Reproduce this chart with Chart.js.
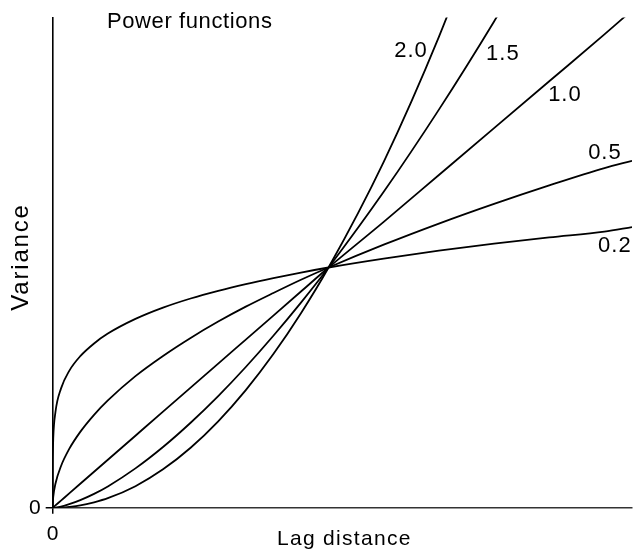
<!DOCTYPE html>
<html>
<head>
<meta charset="utf-8">
<script src="https://cdn.jsdelivr.net/npm/chart.js@4"></script>
<style>
  body { margin: 0; background: #fff; }
  #wrap { width: 635px; height: 555px; }
</style>
</head>
<body>
<div id="wrap"><canvas id="powerChart" width="635" height="555"></canvas></div>
<script>
// lag distance (h) and variance
const lag = [0, 0.0001, 0.0005, 0.002, 0.01, 0.03, 0.06, 0.1, 0.15, 0.2, 0.3, 0.4, 0.5, 0.6, 0.7, 0.8, 0.9, 1.0, 1.2, 1.4, 1.6, 1.8, 2.0, 2.1];
const var02 = [0, 0.158, 0.219, 0.289, 0.398, 0.496, 0.570, 0.631, 0.684, 0.725, 0.786, 0.833, 0.871, 0.903, 0.931, 0.956, 0.979, 1.0, 1.037, 1.070, 1.099, 1.125, 1.149, 1.168];
const var05 = [0, 0.01, 0.022, 0.045, 0.1, 0.173, 0.245, 0.316, 0.387, 0.447, 0.548, 0.632, 0.707, 0.775, 0.837, 0.894, 0.949, 1.0, 1.095, 1.183, 1.265, 1.342, 1.414, 1.444];
const var10 = [0, 0.0001, 0.0005, 0.002, 0.01, 0.03, 0.06, 0.1, 0.15, 0.2, 0.3, 0.4, 0.5, 0.6, 0.7, 0.8, 0.9, 1.0, 1.19, 1.385, 1.58, 1.775, 1.97, 2.07];
const var15 = [0, 0, 0, 0.0001, 0.001, 0.005, 0.015, 0.032, 0.058, 0.089, 0.164, 0.253, 0.354, 0.465, 0.586, 0.716, 0.854, 1.0, 1.315, 1.657, 2.024, 2.415];
const var20 = [0, 0, 0, 0, 0.0001, 0.001, 0.004, 0.01, 0.023, 0.04, 0.09, 0.16, 0.25, 0.36, 0.49, 0.64, 0.81, 1.0, 1.44, 1.96, 2.56];

// curve labels, anchored in data units
const curveLabels = ["2.0", "1.5", "1.0", "0.5", "0.2"];
const labelLag = [1.238, 1.571, 1.796, 1.941, 1.977];
const labelVar = [1.877, 1.865, 1.694, 1.450, 1.063];

const FONT = "'Liberation Sans', Arial, Helvetica, sans-serif";

const toPoints = vals => vals.map((v, i) => ({ x: lag[i], y: v }));

const makeSeries = (label, vals) => ({
  label,
  data: toPoints(vals),
  borderColor: "#000",
  borderWidth: 1.8,
  pointRadius: 0,
  fill: false,
  cubicInterpolationMode: "monotone"
});

const textPlugin = {
  id: "textPlugin",
  afterDraw(chart) {
    const { ctx, scales: { x, y } } = chart;
    ctx.save();
    ctx.fillStyle = "#000";
    ctx.textBaseline = "alphabetic";

    ctx.font = "22px " + FONT;
    ctx.letterSpacing = "1px";
    ctx.textAlign = "left";
    curveLabels.forEach((t, i) => {
      ctx.fillText(t, x.getPixelForValue(labelLag[i]), y.getPixelForValue(labelVar[i]));
    });

    ctx.font = "22px " + FONT;
    ctx.letterSpacing = "0.6px";
    ctx.fillText("Power functions", 107, 28);

    ctx.font = "21px " + FONT;
    ctx.letterSpacing = "1.3px";
    ctx.fillText("Lag distance", 277, 545);

    ctx.font = "24px " + FONT;
    ctx.letterSpacing = "1.8px";
    ctx.translate(28, 257);
    ctx.rotate(-Math.PI / 2);
    ctx.textAlign = "center";
    ctx.fillText("Variance", 0, 0);
    ctx.restore();
  }
};

new Chart(document.getElementById("powerChart"), {
  type: "line",
  data: {
    datasets: [
      makeSeries("2.0", var20),
      makeSeries("1.5", var15),
      makeSeries("1.0", var10),
      makeSeries("0.5", var05),
      makeSeries("0.2", var02)
    ]
  },
  options: {
    responsive: false,
    animation: false,
    layout: { padding: { left: 24, right: 3, top: 8, bottom: 0 } },
    plugins: { legend: { display: false }, tooltip: { enabled: false } },
    scales: {
      x: {
        type: "linear",
        min: 0,
        max: 2.1,
        afterBuildTicks: s => { s.ticks = [{ value: 0 }]; },
        ticks: { color: "#000", padding: 8, maxRotation: 0, font: { family: FONT, size: 21 } },
        grid: { display: true, drawOnChartArea: false, drawTicks: true, tickLength: 6, color: "#000", lineWidth: 1.5 },
        border: { display: true, color: "#333", width: 1.5 }
      },
      y: {
        type: "linear",
        min: 0,
        max: 2.04,
        afterBuildTicks: s => { s.ticks = [{ value: 0 }]; },
        ticks: { color: "#000", padding: 5, font: { family: FONT, size: 21 } },
        grid: { display: true, drawOnChartArea: false, drawTicks: true, tickLength: 7, color: "#000", lineWidth: 1.5 },
        border: { display: true, color: "#000", width: 1.6 }
      }
    }
  },
  plugins: [textPlugin]
});
</script>
</body>
</html>
